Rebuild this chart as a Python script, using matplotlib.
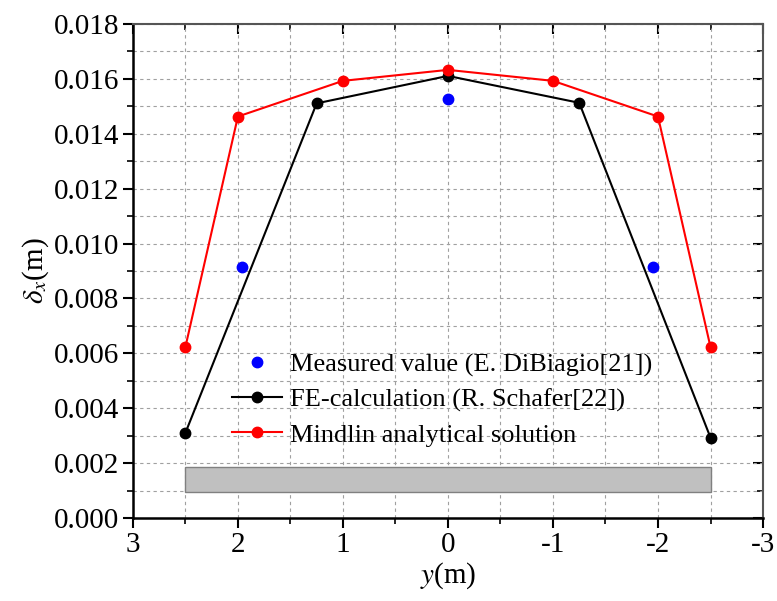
import numpy as np
import matplotlib
matplotlib.use('Agg')
import matplotlib.pyplot as plt
from matplotlib.patches import Rectangle
from matplotlib.ticker import MultipleLocator

plt.rcParams['font.family'] = ['Liberation Serif', 'DejaVu Serif']
plt.rcParams['mathtext.fontset'] = 'stix'
plt.rcParams['axes.unicode_minus'] = False

# data
measured_y = [1.96, 0.0, -1.95]
measured_dx = [0.00916, 0.01526, 0.00916]

fe_y = [2.5, 1.25, 0.0, -1.25, -2.5]
fe_dx = [0.0031, 0.01511, 0.01611, 0.01513, 0.00293]

mindlin_y = [2.5, 2.0, 1.0, 0.0, -1.0, -2.0, -2.5]
mindlin_dx = [0.00623, 0.01463, 0.01593, 0.01633, 0.01593, 0.01463, 0.00623]

# footing strip
strip_y = [2.5, -2.5]
strip_dx = [0.00094, 0.00185]

fig = plt.figure(figsize=(7.77, 6.01), dpi=100)
ax = fig.add_axes([0.171, 0.138, 0.811, 0.822])

ax.add_patch(Rectangle((strip_y[1], strip_dx[0]), strip_y[0] - strip_y[1],
                       strip_dx[1] - strip_dx[0], facecolor='#c0c0c0',
                       edgecolor='#808080', linewidth=1, zorder=2))

ax.plot(measured_y, measured_dx, 'o', color='blue', markersize=7.5, zorder=4,
        label='Measured value (E. DiBiagio[21])')
ax.plot(fe_y, fe_dx, '-o', color='black', markersize=7.5, linewidth=1.5, zorder=3,
        label='FE-calculation (R. Schafer[22])')
ax.plot(mindlin_y, mindlin_dx, '-o', color='red', markersize=7.5, linewidth=1.5, zorder=3,
        label='Mindlin analytical solution')

ax.set_xlim(3, -3)
ax.set_ylim(0, 0.018)
ax.xaxis.set_major_locator(MultipleLocator(1))
ax.xaxis.set_minor_locator(MultipleLocator(0.5))
ax.yaxis.set_major_locator(MultipleLocator(0.002))
ax.yaxis.set_minor_locator(MultipleLocator(0.001))
ax.yaxis.set_major_formatter(plt.FuncFormatter(lambda v, p: f'{v:.3f}'))
ax.xaxis.set_major_formatter(plt.FuncFormatter(lambda v, p: '0' if abs(v) < 1e-9 else f'{v:.0f}'))

ax.grid(True, which='both', linestyle=(0, (3, 3)), color='#a0a0a0', linewidth=0.8)
ax.set_axisbelow(True)

for side in ['left', 'bottom']:
    ax.spines[side].set_linewidth(1.8)
    ax.spines[side].set_color('black')
for side in ['top', 'right']:
    ax.spines[side].set_linewidth(1.5)
    ax.spines[side].set_color('#555555')

ax.tick_params(which='major', direction='out', length=7, width=1.5, labelsize=21,
               colors='black', pad=3)
ax.tick_params(which='minor', direction='out', length=4, width=1.2)
# ticks on the top and right point inward
sec_x = ax.secondary_xaxis('top')
sec_x.xaxis.set_major_locator(MultipleLocator(1))
sec_x.xaxis.set_minor_locator(MultipleLocator(0.5))
sec_x.tick_params(which='major', direction='in', length=7, width=1.5, labeltop=False)
sec_x.tick_params(which='minor', direction='in', length=4, width=1.2)
sec_x.spines['top'].set_visible(False)
sec_y = ax.secondary_yaxis('right')
sec_y.yaxis.set_major_locator(MultipleLocator(0.002))
sec_y.yaxis.set_minor_locator(MultipleLocator(0.001))
sec_y.tick_params(which='major', direction='in', length=7, width=1.5, labelright=False)
sec_y.tick_params(which='minor', direction='in', length=4, width=1.2)
sec_y.spines['right'].set_visible(False)

ax.set_xlabel(r'$y$(m)', fontsize=21, labelpad=2)
ax.set_ylabel(r'$\delta_x$(m)', fontsize=21, labelpad=2)

ax.legend(loc='upper left', bbox_to_anchor=(0.14, 0.355), frameon=False, fontsize=19,
          handlelength=1.9, handletextpad=0.3, labelspacing=0.42, borderaxespad=0)

fig.savefig('out.png', dpi=100)
